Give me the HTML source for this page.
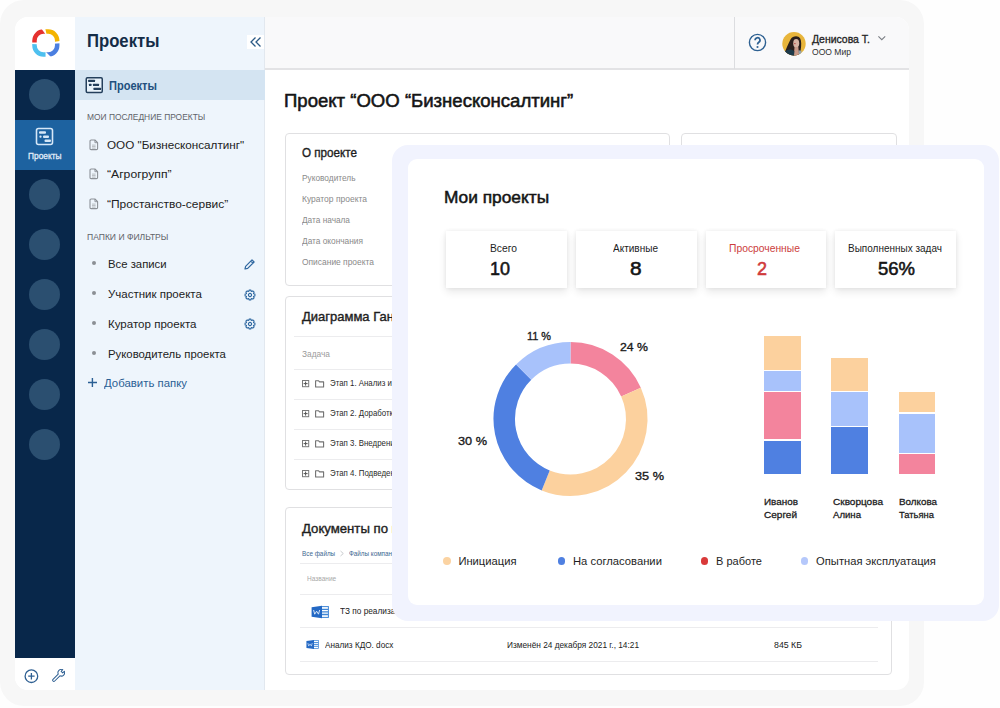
<!DOCTYPE html>
<html><head><meta charset="utf-8">
<style>
*{margin:0;padding:0;box-sizing:border-box}
html,body{width:1000px;height:708px;overflow:hidden;background:#fefefe;font-family:"Liberation Sans",sans-serif;color:#1b1b1b}
.a{position:absolute;display:block}
.t{position:absolute;white-space:nowrap;line-height:1;transform-origin:0 0}
</style></head><body>
<div class="a" style="left:0px;top:0px;width:924px;height:706px;background:#f7f7f7;border-radius:24px;"></div>
<div class="a" style="left:0;top:0;width:1000px;height:708px;background:#fff;clip-path:inset(17px 91px 18px 15px round 13px)">
<div class="a" style="left:15px;top:17px;width:60px;height:53px;background:#fff;"></div>
<svg class="a" style="left:31.5px;top:29px" width="28" height="28" viewBox="0 0 28 28"><defs><clipPath id="lr"><polygon points="-1,-1 8.92,-1 16,8.7 16,13.6 -1,13.6"/></clipPath><clipPath id="ly"><polygon points="13.13,-1 29,-1 29,11.9 18,13.5 15.17,8"/></clipPath><clipPath id="lb"><polygon points="29,14.08 29,29 19.92,29 12,21 18,14.9"/></clipPath><clipPath id="lc"><polygon points="-1,14.95 9,15.6 13.56,20 13.56,29 -1,29"/></clipPath></defs><rect x="2.5" y="2.6" width="22.7" height="22.85" rx="9" fill="none" stroke-width="4.5" stroke="#e5312f" clip-path="url(#lr)"/><rect x="2.5" y="2.6" width="22.7" height="22.85" rx="9" fill="none" stroke-width="4.5" stroke="#f4b400" clip-path="url(#ly)"/><rect x="2.5" y="2.6" width="22.7" height="22.85" rx="9" fill="none" stroke-width="4.5" stroke="#4b7fe0" clip-path="url(#lb)"/><rect x="2.5" y="2.6" width="22.7" height="22.85" rx="9" fill="none" stroke-width="4.5" stroke="#4ec0ef" clip-path="url(#lc)"/></svg>
<div class="a" style="left:15px;top:70px;width:60px;height:588px;background:#08274a;"></div>
<div class="a" style="left:15px;top:120px;width:60px;height:50px;background:#1d62a0;"></div>
<div class="a" style="left:29px;top:79.1px;width:31.4px;height:31.4px;border-radius:50%;background:#2b4f70"></div>
<div class="a" style="left:29px;top:179.1px;width:31.4px;height:31.4px;border-radius:50%;background:#2b4f70"></div>
<div class="a" style="left:29px;top:229.1px;width:31.4px;height:31.4px;border-radius:50%;background:#2b4f70"></div>
<div class="a" style="left:29px;top:279.1px;width:31.4px;height:31.4px;border-radius:50%;background:#2b4f70"></div>
<div class="a" style="left:29px;top:329.1px;width:31.4px;height:31.4px;border-radius:50%;background:#2b4f70"></div>
<div class="a" style="left:29px;top:379.1px;width:31.4px;height:31.4px;border-radius:50%;background:#2b4f70"></div>
<div class="a" style="left:29px;top:429.1px;width:31.4px;height:31.4px;border-radius:50%;background:#2b4f70"></div>
<svg class="a" style="left:35px;top:127px" width="19" height="19" viewBox="0 0 19 19"><rect x="1.5" y="1.5" width="16" height="16" rx="2" fill="none" stroke="#d6e7f7" stroke-width="1.6"/><rect x="4" y="4.3" width="7" height="2.4" rx="1" fill="#d6e7f7"/><rect x="4.4" y="8.6" width="2.2" height="2.2" rx="1" fill="#d6e7f7"/><rect x="8" y="8.6" width="6" height="2.4" rx="1" fill="#d6e7f7"/><rect x="9.5" y="12.6" width="6.5" height="2.4" rx="1" fill="#d6e7f7"/></svg>
<div class="t" style="left:28.45px;top:152.41px;font-size:9.20px;font-weight:normal;color:#e3eefa;transform:scaleX(0.9074);-webkit-text-stroke:0.28px #e3eefa;">Проекты</div>
<div class="a" style="left:15px;top:658px;width:60px;height:32px;background:#fff;"></div>
<svg class="a" style="left:24px;top:669px" width="15" height="15" viewBox="0 0 15 15"><circle cx="7.4" cy="7.2" r="6.3" fill="none" stroke="#2e5f92" stroke-width="1.3"/><path d="M7.4 4 V10.4 M4.2 7.2 H10.6" stroke="#2e5f92" stroke-width="1.3"/></svg>
<svg class="a" style="left:52px;top:669px" width="13" height="13" viewBox="0 0 14 14"><path d="M2.92,12.92 L8.55,7.3 A3.6,3.6 0 0 0 13.25,2.45 L11.56,4.14 L9.86,2.44 L11.55,0.75 A3.6,3.6 0 0 0 6.7,5.46 L1.08,11.08 A1.3,1.3 0 0 0 2.92,12.92 Z" fill="none" stroke="#2e5f92" stroke-width="1.1" stroke-linejoin="round"/></svg>
<div class="a" style="left:75px;top:17px;width:190px;height:673px;background:#eef5fc;border-right:1px solid #e2e8ef;"></div>
<div class="t" style="left:86.60px;top:31.95px;font-size:18.00px;font-weight:bold;color:#142c47;transform:scaleX(0.9266);">Проекты</div>
<div class="a" style="left:247px;top:35px;width:17px;height:14px;background:#fff;"></div>
<svg class="a" style="left:249px;top:36px" width="14" height="12" viewBox="0 0 14 12"><path d="M6.5,1.5 L2,6 L6.5,10.5 M11.5,1.5 L7,6 L11.5,10.5" fill="none" stroke="#2a5985" stroke-width="1.3"/></svg>
<div class="a" style="left:75px;top:70px;width:190px;height:30px;background:#d4e4f2;"></div>
<svg class="a" style="left:85px;top:76px" width="19" height="18" viewBox="0 0 19 18"><rect x="1.25" y="1.75" width="16" height="14.8" rx="1.2" fill="#e9f3fb" stroke="#243f5c" stroke-width="1.5"/><rect x="3.2" y="3.8" width="6.8" height="2.2" rx="0.5" fill="#243f5c"/><rect x="4" y="7.8" width="2.5" height="2.2" rx="0.5" fill="#243f5c"/><rect x="8" y="7.8" width="6" height="2.2" rx="0.5" fill="#243f5c"/><rect x="8.5" y="11.8" width="7.5" height="2.2" rx="0.5" fill="#243f5c"/></svg>
<div class="t" style="left:109.40px;top:80.40px;font-size:12.40px;font-weight:bold;color:#22507e;transform:scaleX(0.8917);">Проекты</div>
<div class="t" style="left:86.60px;top:113.23px;font-size:8.70px;font-weight:normal;color:#5f6369;transform:scaleX(0.9675);">МОИ ПОСЛЕДНИЕ ПРОЕКТЫ</div>
<svg class="a" style="left:88.8px;top:138.7px" width="10" height="12" viewBox="0 0 10 12"><path d="M2.2,1 H5.9 L8.6,3.7 V9.4 Q8.6,10.6 7.4,10.6 H2.2 Q1,10.6 1,9.4 V2.2 Q1,1 2.2,1 Z" fill="none" stroke="#8c9197" stroke-width="1.1" stroke-linejoin="round"/><path d="M5.9,1 V3.7 H8.6" fill="none" stroke="#8c9197" stroke-width="0.9"/><path d="M3,6.1 H6.6 M3,7.6 H6.6 M3,9.1 H6.6" stroke="#a9adb2" stroke-width="0.8"/></svg>
<div class="t" style="left:107.40px;top:139.61px;font-size:11.80px;font-weight:normal;color:#222;transform:scaleX(0.9910);">ООО "Бизнесконсалтинг"</div>
<svg class="a" style="left:88.8px;top:168.29999999999998px" width="10" height="12" viewBox="0 0 10 12"><path d="M2.2,1 H5.9 L8.6,3.7 V9.4 Q8.6,10.6 7.4,10.6 H2.2 Q1,10.6 1,9.4 V2.2 Q1,1 2.2,1 Z" fill="none" stroke="#8c9197" stroke-width="1.1" stroke-linejoin="round"/><path d="M5.9,1 V3.7 H8.6" fill="none" stroke="#8c9197" stroke-width="0.9"/><path d="M3,6.1 H6.6 M3,7.6 H6.6 M3,9.1 H6.6" stroke="#a9adb2" stroke-width="0.8"/></svg>
<div class="t" style="left:107.40px;top:169.21px;font-size:11.80px;font-weight:normal;color:#222;transform:scaleX(1.0324);">“Агрогрупп”</div>
<svg class="a" style="left:88.8px;top:197.89999999999998px" width="10" height="12" viewBox="0 0 10 12"><path d="M2.2,1 H5.9 L8.6,3.7 V9.4 Q8.6,10.6 7.4,10.6 H2.2 Q1,10.6 1,9.4 V2.2 Q1,1 2.2,1 Z" fill="none" stroke="#8c9197" stroke-width="1.1" stroke-linejoin="round"/><path d="M5.9,1 V3.7 H8.6" fill="none" stroke="#8c9197" stroke-width="0.9"/><path d="M3,6.1 H6.6 M3,7.6 H6.6 M3,9.1 H6.6" stroke="#a9adb2" stroke-width="0.8"/></svg>
<div class="t" style="left:107.40px;top:198.81px;font-size:11.80px;font-weight:normal;color:#222;transform:scaleX(1.0147);">“Простанство-сервис”</div>
<div class="t" style="left:86.90px;top:233.03px;font-size:8.70px;font-weight:normal;color:#5f6369;transform:scaleX(0.9837);">ПАПКИ И ФИЛЬТРЫ</div>
<div class="a" style="left:91.5px;top:261.1px;width:4.4px;height:4.4px;border-radius:50%;background:#8b8f94"></div>
<div class="t" style="left:108.40px;top:259.41px;font-size:11.80px;font-weight:normal;color:#222;transform:scaleX(0.9598);">Все записи</div>
<div class="a" style="left:91.5px;top:291.1px;width:4.4px;height:4.4px;border-radius:50%;background:#8b8f94"></div>
<div class="t" style="left:108.40px;top:289.41px;font-size:11.80px;font-weight:normal;color:#222;transform:scaleX(0.9753);">Участник проекта</div>
<div class="a" style="left:91.5px;top:320.7px;width:4.4px;height:4.4px;border-radius:50%;background:#8b8f94"></div>
<div class="t" style="left:108.40px;top:319.01px;font-size:11.80px;font-weight:normal;color:#222;transform:scaleX(0.9790);">Куратор проекта</div>
<div class="a" style="left:91.5px;top:350.6px;width:4.4px;height:4.4px;border-radius:50%;background:#8b8f94"></div>
<div class="t" style="left:108.40px;top:348.91px;font-size:11.80px;font-weight:normal;color:#222;transform:scaleX(0.9623);">Руководитель проекта</div>
<svg class="a" style="left:243px;top:258px" width="13" height="13" viewBox="0 0 13 13"><path d="M2,11 L2.6,8.3 L9,1.9 L11.1,4 L4.7,10.4 Z M7.8,3.1 L9.9,5.2" fill="none" stroke="#2e67a0" stroke-width="1.2" stroke-linejoin="round"/></svg>
<svg class="a" style="left:244px;top:289px" width="12" height="12" viewBox="0 0 12 12"><g transform="translate(6,6)" fill="none" stroke="#2e67a0" stroke-width="1.1"><path d="M3.71,-1.21 L4.91,-0.94 L4.91,0.94 L3.71,1.21 L3.47,1.77 L4.14,2.81 L2.81,4.14 L1.77,3.47 L1.21,3.71 L0.94,4.91 L-0.94,4.91 L-1.21,3.71 L-1.77,3.47 L-2.81,4.14 L-4.14,2.81 L-3.47,1.77 L-3.71,1.21 L-4.91,0.94 L-4.91,-0.94 L-3.71,-1.21 L-3.47,-1.77 L-4.14,-2.81 L-2.81,-4.14 L-1.77,-3.47 L-1.21,-3.71 L-0.94,-4.91 L0.94,-4.91 L1.21,-3.71 L1.77,-3.47 L2.81,-4.14 L4.14,-2.81 L3.47,-1.77 Z" stroke-linejoin="round"/><circle r="1.6"/></g></svg>
<svg class="a" style="left:244px;top:318px" width="12" height="12" viewBox="0 0 12 12"><g transform="translate(6,6)" fill="none" stroke="#2e67a0" stroke-width="1.1"><path d="M3.71,-1.21 L4.91,-0.94 L4.91,0.94 L3.71,1.21 L3.47,1.77 L4.14,2.81 L2.81,4.14 L1.77,3.47 L1.21,3.71 L0.94,4.91 L-0.94,4.91 L-1.21,3.71 L-1.77,3.47 L-2.81,4.14 L-4.14,2.81 L-3.47,1.77 L-3.71,1.21 L-4.91,0.94 L-4.91,-0.94 L-3.71,-1.21 L-3.47,-1.77 L-4.14,-2.81 L-2.81,-4.14 L-1.77,-3.47 L-1.21,-3.71 L-0.94,-4.91 L0.94,-4.91 L1.21,-3.71 L1.77,-3.47 L2.81,-4.14 L4.14,-2.81 L3.47,-1.77 Z" stroke-linejoin="round"/><circle r="1.6"/></g></svg>
<svg class="a" style="left:87px;top:377px" width="11" height="11" viewBox="0 0 11 11"><path d="M5.4,1 V10 M1,5.5 H10" stroke="#2b5f94" stroke-width="1.4"/></svg>
<div class="t" style="left:104.00px;top:378.11px;font-size:11.80px;font-weight:normal;color:#2b5f94;transform:scaleX(0.9655);">Добавить папку</div>
<div class="a" style="left:265px;top:17px;width:644px;height:53px;background:#f9f9fa;border-bottom:2px solid #e3e3e5;"></div>
<div class="a" style="left:733.5px;top:17px;width:1.5px;height:52px;background:#dcdde0;"></div>
<svg class="a" style="left:748.3px;top:33.3px" width="19" height="19" viewBox="0 0 19 19"><circle cx="9.5" cy="9.5" r="8.1" fill="none" stroke="#2e6192" stroke-width="1.4"/><path d="M7.1,7.3 A2.45,2.45 0 1 1 10.8,9.3 C9.9,9.9 9.5,10.4 9.5,11.6" fill="none" stroke="#2e6192" stroke-width="1.7"/><circle cx="9.5" cy="14" r="1.05" fill="#2e6192"/></svg>
<svg class="a" style="left:781.5px;top:32px" width="24" height="24" viewBox="0 0 24 24"><defs><clipPath id="av"><circle cx="12" cy="11.8" r="11.7"/></clipPath></defs><g clip-path="url(#av)"><rect width="24" height="24" fill="#e8b53b"/><path d="M2.5,21 C4.5,16 6.5,11 8.5,7.5 C10.5,4 16,3 18.2,6.5 C19.6,9 19.3,14 18.8,17 L18,24 L2.5,24 Z" fill="#2a1f1b"/><ellipse cx="14.2" cy="11.3" rx="3" ry="4.3" fill="#d8b3a2"/><path d="M12.2,11.3 Q13,12.3 13.6,11.6" stroke="#b5453f" stroke-width="1" fill="none"/><path d="M12.5,15 L16.3,15 L17.3,24 L11.8,24 Z" fill="#c99a88"/><path d="M0,24 C1.5,19.5 5,17.2 9,17.5 L12.3,19 L12,24 Z" fill="#1d3b4b"/><path d="M16.6,18.2 L19.5,18.8 L19.5,24 L17,24 Z" fill="#94a4ad"/></g></svg>
<div class="t" style="left:811.50px;top:34.01px;font-size:11.20px;font-weight:normal;color:#262626;transform:scaleX(0.9343);-webkit-text-stroke:0.34px #262626;">Денисова Т.</div>
<div class="t" style="left:811.50px;top:47.78px;font-size:9.00px;font-weight:normal;color:#303030;transform:scaleX(0.9505);">ООО Мир</div>
<svg class="a" style="left:876px;top:34px" width="11" height="8" viewBox="0 0 11 8"><path d="M2.4,2.3 L5.8,5.7 L9.2,2.3" fill="none" stroke="#7b7f85" stroke-width="1.1"/></svg>
<div class="t" style="left:284.20px;top:93.18px;font-size:17.50px;font-weight:normal;color:#151515;transform:scaleX(1.0601);-webkit-text-stroke:0.53px #151515;">Проект “ООО “Бизнесконсалтинг”</div>
<div class="a" style="left:285px;top:133px;width:385px;height:153px;background:#fff;border:1px solid #e0e0e2;border-radius:4px;"></div>
<div class="a" style="left:681px;top:133px;width:216px;height:167px;background:#fff;border:1px solid #e0e0e2;border-radius:4px;"></div>
<div class="t" style="left:302.00px;top:147.47px;font-size:12.20px;font-weight:normal;color:#1e1e1e;transform:scaleX(0.9557);-webkit-text-stroke:0.37px #1e1e1e;">О проекте</div>
<div class="t" style="left:302.00px;top:174.15px;font-size:8.80px;font-weight:normal;color:#8a8a8a;transform:scaleX(0.9437);">Руководитель</div>
<div class="t" style="left:302.00px;top:195.15px;font-size:8.80px;font-weight:normal;color:#8a8a8a;transform:scaleX(0.9642);">Куратор проекта</div>
<div class="t" style="left:302.00px;top:216.15px;font-size:8.80px;font-weight:normal;color:#8a8a8a;transform:scaleX(0.9411);">Дата начала</div>
<div class="t" style="left:302.00px;top:237.15px;font-size:8.80px;font-weight:normal;color:#8a8a8a;transform:scaleX(0.9450);">Дата окончания</div>
<div class="t" style="left:302.00px;top:258.15px;font-size:8.80px;font-weight:normal;color:#8a8a8a;transform:scaleX(0.9579);">Описание проекта</div>
<div class="a" style="left:285px;top:296px;width:612px;height:194px;background:#fff;border:1px solid #e0e0e2;border-radius:4px;"></div>
<div class="t" style="left:302.00px;top:310.93px;font-size:12.60px;font-weight:normal;color:#1e1e1e;transform:scaleX(1.0315);-webkit-text-stroke:0.38px #1e1e1e;">Диаграмма Ганта</div>
<div class="a" style="left:294px;top:336px;width:594px;height:1px;background:#ececee;"></div>
<div class="t" style="left:302.00px;top:349.57px;font-size:8.30px;font-weight:normal;color:#9c9c9c;transform:scaleX(1.0052);">Задача</div>
<div class="a" style="left:294px;top:369px;width:594px;height:1px;background:#ececee;"></div>
<svg class="a" style="left:302px;top:380px" width="8" height="8" viewBox="0 0 8 8"><rect x="0.5" y="0.5" width="6.2" height="6.2" fill="none" stroke="#7a7a7a" stroke-width="1"/><path d="M3.6,1.6 V5.6 M1.6,3.6 H5.6" stroke="#555" stroke-width="1"/></svg>
<svg class="a" style="left:314.5px;top:380.2px" width="10" height="8" viewBox="0 0 10 8"><path d="M0.6,0.8 H3.6 L4.6,1.9 H8.6 V7 H0.6 Z" fill="none" stroke="#707070" stroke-width="1.1" stroke-linejoin="round"/></svg>
<div class="t" style="left:329.50px;top:380.45px;font-size:8.20px;font-weight:normal;color:#2a2a2a;transform:scaleX(0.9613);">Этап 1. Анализ и сбор требований</div>
<div class="a" style="left:294px;top:399px;width:594px;height:1px;background:#ececee;"></div>
<svg class="a" style="left:302px;top:410px" width="8" height="8" viewBox="0 0 8 8"><rect x="0.5" y="0.5" width="6.2" height="6.2" fill="none" stroke="#7a7a7a" stroke-width="1"/><path d="M3.6,1.6 V5.6 M1.6,3.6 H5.6" stroke="#555" stroke-width="1"/></svg>
<svg class="a" style="left:314.5px;top:410.2px" width="10" height="8" viewBox="0 0 10 8"><path d="M0.6,0.8 H3.6 L4.6,1.9 H8.6 V7 H0.6 Z" fill="none" stroke="#707070" stroke-width="1.1" stroke-linejoin="round"/></svg>
<div class="t" style="left:329.50px;top:410.45px;font-size:8.20px;font-weight:normal;color:#2a2a2a;transform:scaleX(0.9613);">Этап 2. Доработка системы</div>
<div class="a" style="left:294px;top:429px;width:594px;height:1px;background:#ececee;"></div>
<svg class="a" style="left:302px;top:440px" width="8" height="8" viewBox="0 0 8 8"><rect x="0.5" y="0.5" width="6.2" height="6.2" fill="none" stroke="#7a7a7a" stroke-width="1"/><path d="M3.6,1.6 V5.6 M1.6,3.6 H5.6" stroke="#555" stroke-width="1"/></svg>
<svg class="a" style="left:314.5px;top:440.2px" width="10" height="8" viewBox="0 0 10 8"><path d="M0.6,0.8 H3.6 L4.6,1.9 H8.6 V7 H0.6 Z" fill="none" stroke="#707070" stroke-width="1.1" stroke-linejoin="round"/></svg>
<div class="t" style="left:329.50px;top:440.45px;font-size:8.20px;font-weight:normal;color:#2a2a2a;transform:scaleX(0.9613);">Этап 3. Внедрение системы</div>
<div class="a" style="left:294px;top:459px;width:594px;height:1px;background:#ececee;"></div>
<svg class="a" style="left:302px;top:470px" width="8" height="8" viewBox="0 0 8 8"><rect x="0.5" y="0.5" width="6.2" height="6.2" fill="none" stroke="#7a7a7a" stroke-width="1"/><path d="M3.6,1.6 V5.6 M1.6,3.6 H5.6" stroke="#555" stroke-width="1"/></svg>
<svg class="a" style="left:314.5px;top:470.2px" width="10" height="8" viewBox="0 0 10 8"><path d="M0.6,0.8 H3.6 L4.6,1.9 H8.6 V7 H0.6 Z" fill="none" stroke="#707070" stroke-width="1.1" stroke-linejoin="round"/></svg>
<div class="t" style="left:329.50px;top:470.45px;font-size:8.20px;font-weight:normal;color:#2a2a2a;transform:scaleX(0.9613);">Этап 4. Подведение итогов</div>
<div class="a" style="left:285px;top:507px;width:607px;height:167.60000000000002px;background:#fff;border:1px solid #e0e0e2;border-radius:4px;"></div>
<div class="t" style="left:302.00px;top:523.43px;font-size:12.60px;font-weight:normal;color:#1e1e1e;transform:scaleX(1.0452);-webkit-text-stroke:0.38px #1e1e1e;">Документы по проекту</div>
<div class="t" style="left:302.00px;top:550.36px;font-size:7.60px;font-weight:normal;color:#3d6790;transform:scaleX(0.8335);">Все файлы</div>
<svg class="a" style="left:338.5px;top:550px" width="6" height="7" viewBox="0 0 6 7"><path d="M1.5,1 L4.3,3.5 L1.5,6" fill="none" stroke="#c3c6ca" stroke-width="0.9"/></svg>
<div class="t" style="left:348.90px;top:550.36px;font-size:7.60px;font-weight:normal;color:#3d6790;transform:scaleX(0.8335);">Файлы компании</div>
<div class="a" style="left:300px;top:563px;width:578px;height:1px;background:#ececee;"></div>
<div class="t" style="left:306.70px;top:575.33px;font-size:7.40px;font-weight:normal;color:#a8a8a8;transform:scaleX(0.8860);">Название</div>
<div class="a" style="left:300px;top:594px;width:578px;height:1px;background:#ececee;"></div>
<svg class="a" style="left:310.5px;top:604.5px" width="18" height="14" viewBox="0 0 18 14"><rect x="10" y="1.6" width="7.4" height="10.8" fill="#fff" stroke="#3f86d6" stroke-width="1"/><path d="M11,4.3 H17 M11,6.9 H17 M11,9.5 H17" stroke="#3f86d6" stroke-width="1.3"/><path d="M0.6,2.2 L11,0.8 V13.2 L0.6,11.8 Z" fill="#2368c4"/><path d="M2.6,5 L3.7,9.2 L5.6,6.2 L7.5,9.2 L8.6,5" fill="none" stroke="#e8f0fb" stroke-width="0.9"/></svg>
<div class="t" style="left:340.00px;top:607.36px;font-size:8.90px;font-weight:normal;color:#222;transform:scaleX(0.9331);">ТЗ по реализации проекта.docx</div>
<div class="a" style="left:300px;top:627px;width:578px;height:1px;background:#ececee;"></div>
<svg class="a" style="left:305.5px;top:639px" width="13" height="11" viewBox="0 0 18 14"><rect x="10" y="1.6" width="7.4" height="10.8" fill="#fff" stroke="#3f86d6" stroke-width="1"/><path d="M11,4.3 H17 M11,6.9 H17 M11,9.5 H17" stroke="#3f86d6" stroke-width="1.3"/><path d="M0.6,2.2 L11,0.8 V13.2 L0.6,11.8 Z" fill="#2368c4"/><path d="M2.6,5 L3.7,9.2 L5.6,6.2 L7.5,9.2 L8.6,5" fill="none" stroke="#e8f0fb" stroke-width="0.9"/></svg>
<div class="t" style="left:325.30px;top:641.40px;font-size:8.50px;font-weight:normal;color:#222;transform:scaleX(0.9627);">Анализ КДО. docx</div>
<div class="t" style="left:507.00px;top:641.40px;font-size:8.50px;font-weight:normal;color:#222;transform:scaleX(0.9753);">Изменён 24 декабря 2021 г., 14:21</div>
<div class="t" style="left:774.00px;top:641.40px;font-size:8.50px;font-weight:normal;color:#222;transform:scaleX(1.0343);">845 КБ</div>
<div class="a" style="left:300px;top:661px;width:578px;height:1px;background:#ececee;"></div>
</div>
<div class="a" style="left:392px;top:144.5px;width:606.5px;height:476.0px;background:#f1f3fe;border-radius:16px;"></div>
<div class="a" style="left:408px;top:158.5px;width:576px;height:446.5px;background:#fff;border-radius:9px;"></div>
<div class="t" style="left:444.40px;top:190.26px;font-size:16.70px;font-weight:normal;color:#141414;transform:scaleX(1.0375);-webkit-text-stroke:0.50px #141414;">Мои проекты</div>
<div class="a" style="left:445.5px;top:230.5px;width:121.5px;height:57.5px;background:#fff;box-shadow:0 4px 8px rgba(0,0,0,0.09),0 0 4px rgba(0,0,0,0.07);"></div>
<div class="t" style="left:490.20px;top:243.42px;font-size:10.60px;font-weight:normal;color:#1d1d1d;transform:scaleX(0.9715);">Всего</div>
<div class="t" style="left:490.40px;top:259.65px;font-size:18.60px;font-weight:normal;color:#151515;transform:scaleX(0.9670);-webkit-text-stroke:0.56px #151515;">10</div>
<div class="a" style="left:576px;top:230.5px;width:120.5px;height:57.5px;background:#fff;box-shadow:0 4px 8px rgba(0,0,0,0.09),0 0 4px rgba(0,0,0,0.07);"></div>
<div class="t" style="left:612.80px;top:243.42px;font-size:10.60px;font-weight:normal;color:#1d1d1d;transform:scaleX(0.9453);">Активные</div>
<div class="t" style="left:629.95px;top:259.65px;font-size:18.60px;font-weight:normal;color:#151515;transform:scaleX(1.1217);-webkit-text-stroke:0.56px #151515;">8</div>
<div class="a" style="left:706px;top:230.5px;width:120px;height:57.5px;background:#fff;box-shadow:0 4px 8px rgba(0,0,0,0.09),0 0 4px rgba(0,0,0,0.07);"></div>
<div class="t" style="left:729.00px;top:243.42px;font-size:10.60px;font-weight:normal;color:#cc3d3d;transform:scaleX(0.9738);">Просроченные</div>
<div class="t" style="left:757.00px;top:259.65px;font-size:18.60px;font-weight:normal;color:#d03a3b;transform:scaleX(0.9670);-webkit-text-stroke:0.56px #d03a3b;">2</div>
<div class="a" style="left:835px;top:230.5px;width:121px;height:57.5px;background:#fff;box-shadow:0 4px 8px rgba(0,0,0,0.09),0 0 4px rgba(0,0,0,0.07);"></div>
<div class="t" style="left:848.00px;top:243.42px;font-size:10.60px;font-weight:normal;color:#1d1d1d;transform:scaleX(0.9426);">Выполненных задач</div>
<div class="t" style="left:878.00px;top:259.65px;font-size:18.60px;font-weight:normal;color:#151515;transform:scaleX(0.9941);-webkit-text-stroke:0.56px #151515;">56%</div>
<svg class="a" style="left:392px;top:144px" width="400" height="400" viewBox="0 0 400 400"><path d="M178.50,208.75 A66.25,66.25 0 0 1 239.02,248.05" fill="none" stroke="#f3849d" stroke-width="21.5"/><path d="M239.02,248.05 A66.25,66.25 0 0 1 153.68,336.43" fill="none" stroke="#fcd19e" stroke-width="21.5"/><path d="M153.68,336.43 A66.25,66.25 0 0 1 131.65,228.15" fill="none" stroke="#4f80e1" stroke-width="21.5"/><path d="M131.65,228.15 A66.25,66.25 0 0 1 178.50,208.75" fill="none" stroke="#a8c2fb" stroke-width="21.5"/></svg>
<div class="t" style="left:526.50px;top:331.41px;font-size:11.80px;font-weight:normal;color:#1b1b1b;transform:scaleX(0.9224);-webkit-text-stroke:0.35px #1b1b1b;">11 %</div>
<div class="t" style="left:619.50px;top:342.11px;font-size:11.80px;font-weight:normal;color:#1b1b1b;transform:scaleX(1.0412);-webkit-text-stroke:0.35px #1b1b1b;">24 %</div>
<div class="t" style="left:457.50px;top:436.21px;font-size:11.80px;font-weight:normal;color:#1b1b1b;transform:scaleX(1.0784);-webkit-text-stroke:0.35px #1b1b1b;">30 %</div>
<div class="t" style="left:634.50px;top:471.21px;font-size:11.80px;font-weight:normal;color:#1b1b1b;transform:scaleX(1.0784);-webkit-text-stroke:0.35px #1b1b1b;">35 %</div>
<div class="a" style="left:763.7px;top:336.3px;width:37.09999999999991px;height:33.5px;background:#fcd19e;"></div>
<div class="a" style="left:763.7px;top:370.8px;width:37.09999999999991px;height:19.80000000000001px;background:#a8c2fb;"></div>
<div class="a" style="left:763.7px;top:391.6px;width:37.09999999999991px;height:47.89999999999998px;background:#f3849d;"></div>
<div class="a" style="left:763.7px;top:440.5px;width:37.09999999999991px;height:33.10000000000002px;background:#4f80e1;"></div>
<div class="a" style="left:831px;top:358px;width:37px;height:33.19999999999999px;background:#fcd19e;"></div>
<div class="a" style="left:831px;top:392.2px;width:37px;height:33.80000000000001px;background:#a8c2fb;"></div>
<div class="a" style="left:831px;top:427px;width:37px;height:46.60000000000002px;background:#4f80e1;"></div>
<div class="a" style="left:898.6px;top:391.7px;width:36.39999999999998px;height:20.80000000000001px;background:#fcd19e;"></div>
<div class="a" style="left:898.6px;top:413.5px;width:36.39999999999998px;height:39.0px;background:#a8c2fb;"></div>
<div class="a" style="left:898.6px;top:453.5px;width:36.39999999999998px;height:20.100000000000023px;background:#f3849d;"></div>
<div class="t" style="left:764.00px;top:496.95px;font-size:9.50px;font-weight:normal;color:#1b1b1b;transform:scaleX(1.0419);-webkit-text-stroke:0.28px #1b1b1b;">Иванов</div>
<div class="t" style="left:764.00px;top:509.95px;font-size:9.50px;font-weight:normal;color:#1b1b1b;transform:scaleX(1.0552);-webkit-text-stroke:0.28px #1b1b1b;">Сергей</div>
<div class="t" style="left:833.00px;top:496.95px;font-size:9.50px;font-weight:normal;color:#1b1b1b;transform:scaleX(1.0554);-webkit-text-stroke:0.28px #1b1b1b;">Скворцова</div>
<div class="t" style="left:833.00px;top:509.95px;font-size:9.50px;font-weight:normal;color:#1b1b1b;transform:scaleX(1.0101);-webkit-text-stroke:0.28px #1b1b1b;">Алина</div>
<div class="t" style="left:899.00px;top:496.95px;font-size:9.50px;font-weight:normal;color:#1b1b1b;transform:scaleX(1.0344);-webkit-text-stroke:0.28px #1b1b1b;">Волкова</div>
<div class="t" style="left:899.00px;top:509.95px;font-size:9.50px;font-weight:normal;color:#1b1b1b;transform:scaleX(0.9877);-webkit-text-stroke:0.28px #1b1b1b;">Татьяна</div>
<div class="a" style="left:442.90000000000003px;top:557.3000000000001px;width:7.8px;height:7.8px;border-radius:50%;background:#fbd3a2"></div>
<div class="t" style="left:458.40px;top:556.21px;font-size:11.20px;font-weight:normal;color:#1e1e1e;">Инициация</div>
<div class="a" style="left:557.7px;top:557.3000000000001px;width:7.8px;height:7.8px;border-radius:50%;background:#4f80e1"></div>
<div class="t" style="left:573.20px;top:556.21px;font-size:11.20px;font-weight:normal;color:#1e1e1e;transform:scaleX(1.0035);">На согласовании</div>
<div class="a" style="left:700.7px;top:557.3000000000001px;width:7.8px;height:7.8px;border-radius:50%;background:#d93a3a"></div>
<div class="t" style="left:716.20px;top:556.21px;font-size:11.20px;font-weight:normal;color:#1e1e1e;transform:scaleX(0.9856);">В работе</div>
<div class="a" style="left:800.6px;top:557.3000000000001px;width:7.8px;height:7.8px;border-radius:50%;background:#b5c8fb"></div>
<div class="t" style="left:816.10px;top:556.21px;font-size:11.20px;font-weight:normal;color:#1e1e1e;">Опытная эксплуатация</div>
</body></html>
